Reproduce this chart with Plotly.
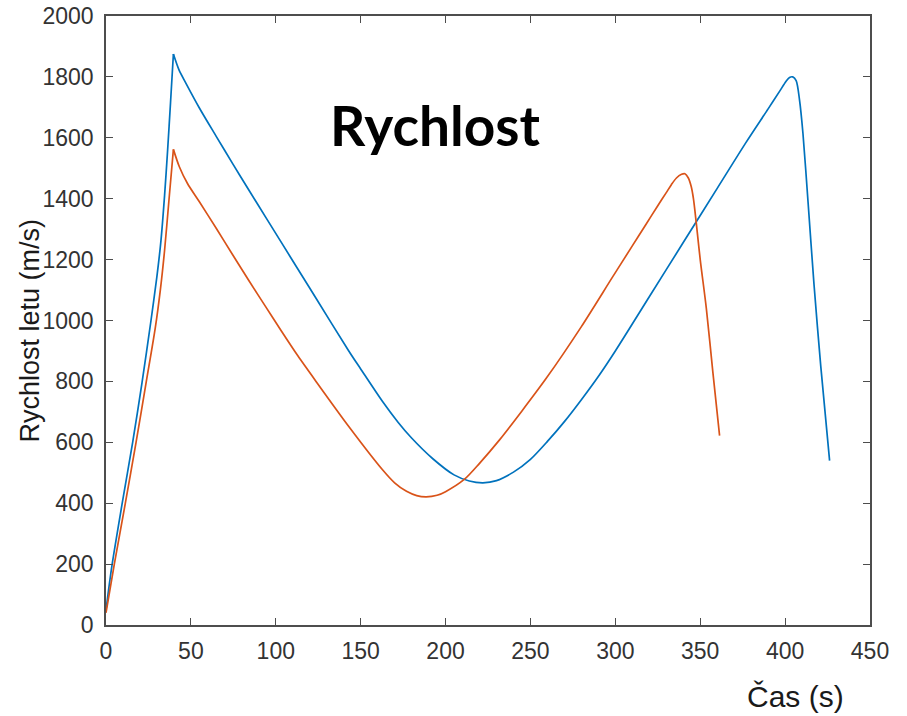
import plotly.graph_objects as go

# Data
blue_t = [0, 3.5, 9.4, 15.7, 21.2, 26.5, 30, 32.4, 34.5, 36.3, 38, 39.7,
          43, 47.1, 55, 65, 74.6, 84.4, 94.3, 104, 113.9, 123.7,
          143, 150, 163, 172, 180, 192.5, 205, 214, 222, 230, 240, 250,
          260, 270, 280, 290.7, 300, 320, 340, 360, 377, 390,
          397, 400.5, 402.6, 404.5, 406.5, 408.5, 410.5, 413.5, 417, 421,
          426.2]
blue_v = [50, 195, 395, 600, 795, 1000, 1145, 1264, 1410, 1560, 1715, 1875,
          1823, 1779, 1698, 1604, 1515, 1426, 1337, 1250, 1161, 1073,
          900, 841, 733, 666, 614, 546, 493, 473, 467, 474, 502, 544,
          603, 668, 740, 822, 900, 1078, 1256, 1434, 1585, 1695,
          1755, 1785, 1798, 1800, 1788, 1724, 1615, 1390, 1120, 850,
          540]

orange_t = [0, 4.9, 11.4, 17.7, 23.6, 29, 32, 34.5, 37, 39.7,
            43.2, 48, 55, 65, 74.6, 84.4, 94.3, 103, 113, 123.7,
            143, 163, 170, 177, 183, 188.6, 195, 200, 211, 220, 231.8, 245, 259.3,
            280, 298.5, 310, 318.2, 325, 330, 333, 336, 339, 341, 343,
            344.7, 346, 347.7, 350, 353.6, 357.5, 361.4]
orange_v = [40, 200, 400, 600, 795, 975, 1100, 1230, 1390, 1562,
            1505, 1450, 1390, 1302, 1216, 1129, 1043, 968, 884, 800,
            652, 509, 467, 439, 425, 421, 426, 438, 478, 531, 608, 703, 810,
            980, 1144, 1245, 1317, 1377, 1420, 1446, 1468, 1480, 1482, 1468,
            1440, 1400, 1319, 1200, 1040, 827, 622]

x_ticks = [0, 50, 100, 150, 200, 250, 300, 350, 400, 450]
y_ticks = [0, 200, 400, 600, 800, 1000, 1200, 1400, 1600, 1800, 2000]

title_text = "Rychlost"
x_title = "Čas (s)"
y_title = "Rychlost letu (m/s)"

BLUE = "#0072BD"
ORANGE = "#D95319"
AXIS = "#4d4d4d"

fig = go.Figure()


def add_series(t, v, color):
    # split at the burnout peak (sharp corner) so the smooth spline keeps it sharp
    k = v.index(max(v[:15]))
    for a, b in ((0, k + 1), (k, len(t))):
        fig.add_trace(go.Scatter(x=t[a:b], y=v[a:b], mode="lines",
                                 line=dict(color=color, width=1.7, shape="spline", smoothing=0.8),
                                 showlegend=False, hoverinfo="x+y"))


add_series(blue_t, blue_v, BLUE)
add_series(orange_t, orange_v, ORANGE)

axis_common = dict(
    showgrid=False, zeroline=False, showline=True, linecolor=AXIS, linewidth=1.5,
    mirror="ticks", ticks="inside", ticklen=7, tickwidth=1.3, tickcolor=AXIS,
    automargin=False,
    tickfont=dict(family="Liberation Sans, Arial, sans-serif", size=23, color="#333333"),
)

fig.update_xaxes(range=[0, 450], tickvals=x_ticks, ticktext=[str(v) for v in x_ticks],
                 ticklabelstandoff=5, **axis_common)
fig.update_yaxes(range=[0, 2000], tickvals=y_ticks, ticktext=[str(v) for v in y_ticks],
                 ticklabelstandoff=6, **axis_common)

fig.update_layout(
    width=907, height=716,
    margin=dict(l=106, r=37, t=16, b=91),
    paper_bgcolor="white", plot_bgcolor="white",
    annotations=[
        dict(text=f"<b>{title_text}</b>", xref="paper", yref="paper",
             x=0.4306, y=0.821, xanchor="center", yanchor="middle", showarrow=False,
             font=dict(family="Lato, sans-serif", size=55, color="black")),
        dict(text=x_title, xref="paper", yref="paper",
             x=0.902, y=-0.118, xanchor="center", yanchor="middle", showarrow=False,
             font=dict(family="Liberation Sans, Arial, sans-serif", size=30, color="#1a1a1a")),
        dict(text=y_title, xref="paper", yref="paper", textangle=-90,
             x=-0.1, y=0.483, xanchor="center", yanchor="middle", showarrow=False,
             font=dict(family="Liberation Sans, Arial, sans-serif", size=27, color="#1a1a1a")),
    ],
)

fig.write_html("out.html")
